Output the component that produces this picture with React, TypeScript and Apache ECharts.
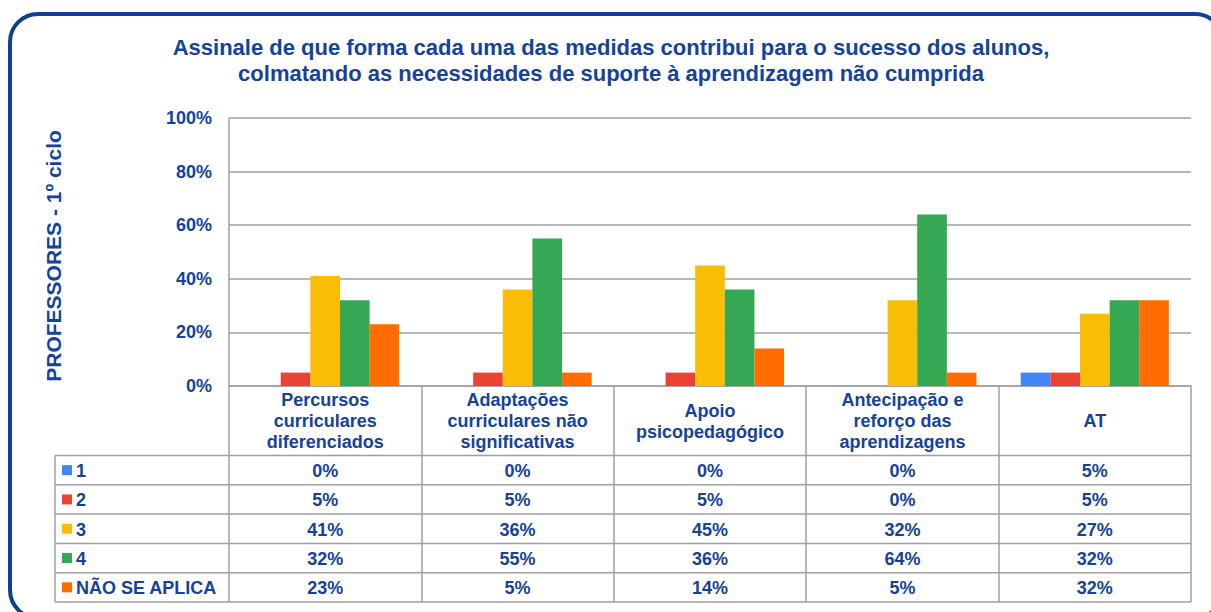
import React, { useEffect, useRef } from "react";
import * as echarts from "echarts";

const titleLines = [
  "Assinale de que forma cada uma das medidas contribui para o sucesso dos alunos,",
  "colmatando as necessidades de suporte à aprendizagem não cumprida",
];
const yAxisName = "PROFESSORES - 1º ciclo";
const categories = [
  "Percursos\ncurriculares\ndiferenciados",
  "Adaptações\ncurriculares não\nsignificativas",
  "Apoio\npsicopedagógico",
  "Antecipação e\nreforço das\naprendizagens",
  "AT",
];
const seriesNames = ["1", "2", "3", "4", "NÃO SE APLICA"];
const seriesColors = ["#4285F4", "#EA4335", "#FBBC04", "#34A853", "#FF6D01"];
const values1 = [0, 0, 0, 0, 5];
const values2 = [5, 5, 5, 0, 5];
const values3 = [41, 36, 45, 32, 27];
const values4 = [32, 55, 36, 64, 32];
const valuesNA = [23, 5, 14, 5, 32];
const seriesValues = [values1, values2, values3, values4, valuesNA];

const TEXT = "#15429a";
const FRAME = "#0e3f93";
const LINE = "#a0a0a0";
const FONT = "'Liberation Sans', Arial, sans-serif";

export default function App() {
  const ref = useRef<HTMLDivElement>(null);
  useEffect(() => {
    document.body.style.margin = "0";
    const chart = echarts.init(ref.current!, null, { renderer: "svg" });
    const W = 1211;
    const gridLeft = 229;
    const gridRight = 1191;
    const gridTop = 118;
    const gridBottom = 386;
    const tableLeft = 55;
    const headerBottom = 455.5;
    const tableBottom = 602;
    const rowH = (tableBottom - headerBottom) / seriesNames.length;
    const catW = (gridRight - gridLeft) / categories.length;

    const graphics: any[] = [];
    graphics.push({
      type: "rect",
      shape: { x: 10, y: 14, width: 1213, height: 604, r: 28 },
      style: { fill: "none", stroke: FRAME, lineWidth: 4 },
      silent: true,
    });
    graphics.push({
      type: "text",
      x: 611,
      y: 60,
      style: {
        text: titleLines.join("\n"),
        font: `bold 22px ${FONT}`,
        fill: TEXT,
        align: "center",
        verticalAlign: "middle",
        lineHeight: 26,
      },
    });
    // table horizontal lines
    for (let i = 0; i <= seriesNames.length; i++) {
      const y = headerBottom + i * rowH;
      graphics.push({
        type: "line",
        shape: { x1: tableLeft, y1: y, x2: gridRight, y2: y },
        style: { stroke: LINE, lineWidth: 1.5 },
        silent: true,
      });
    }
    graphics.push({
      type: "line",
      shape: { x1: tableLeft, y1: headerBottom, x2: tableLeft, y2: tableBottom },
      style: { stroke: LINE, lineWidth: 1.5 },
      silent: true,
    });
    seriesNames.forEach((name, i) => {
      const cy = headerBottom + (i + 0.5) * rowH;
      graphics.push({
        type: "rect",
        shape: { x: 62, y: cy - 5, width: 10, height: 10 },
        style: { fill: seriesColors[i] },
        silent: true,
      });
      graphics.push({
        type: "text",
        x: 76,
        y: cy + 1,
        style: {
          text: name,
          font: `bold 18px ${FONT}`,
          fill: TEXT,
          align: "left",
          verticalAlign: "middle",
        },
      });
      seriesValues[i].forEach((v, j) => {
        graphics.push({
          type: "text",
          x: gridLeft + (j + 0.5) * catW,
          y: cy + 1,
          style: {
            text: `${v}%`,
            font: `bold 18px ${FONT}`,
            fill: TEXT,
            align: "center",
            verticalAlign: "middle",
          },
        });
      });
    });

    chart.setOption({
      animation: false,
      grid: {
        left: gridLeft,
        right: W - gridRight,
        top: gridTop,
        bottom: 612 - gridBottom,
        containLabel: false,
      },
      xAxis: {
        type: "category",
        data: categories,
        axisLine: { show: true, lineStyle: { color: LINE, width: 1.5 } },
        axisTick: {
          show: true,
          alignWithLabel: false,
          length: tableBottom - gridBottom,
          lineStyle: { color: LINE, width: 1.5 },
        },
        axisLabel: {
          interval: 0,
          fontFamily: FONT,
          fontWeight: "bold",
          fontSize: 18,
          lineHeight: 21,
          color: TEXT,
          verticalAlign: "middle",
          margin: 35,
        },
      },
      yAxis: {
        type: "value",
        min: 0,
        max: 100,
        interval: 20,
        name: yAxisName,
        nameLocation: "middle",
        nameRotate: 90,
        nameGap: 165,
        nameTextStyle: {
          fontFamily: FONT,
          fontWeight: "bold",
          fontSize: 21,
          color: TEXT,
          padding: [0, 8, 0, 0],
        },
        axisLine: { show: true, lineStyle: { color: LINE, width: 1.5 } },
        axisTick: { show: false },
        splitLine: { lineStyle: { color: LINE, width: 1.5 } },
        axisLabel: {
          formatter: "{value}%",
          fontFamily: FONT,
          fontWeight: "bold",
          fontSize: 18,
          color: TEXT,
          margin: 17,
        },
      },
      series: seriesNames.map((name, i) => ({
        name,
        type: "bar",
        data: seriesValues[i],
        barGap: "0%",
        barCategoryGap: "23%",
        itemStyle: { color: seriesColors[i] },
      })),
      graphic: graphics,
    });
    return () => chart.dispose();
  }, []);
  return (
    <div
      ref={ref}
      style={{ position: "absolute", left: 0, top: 0, width: 1211, height: 612 }}
    />
  );
}
